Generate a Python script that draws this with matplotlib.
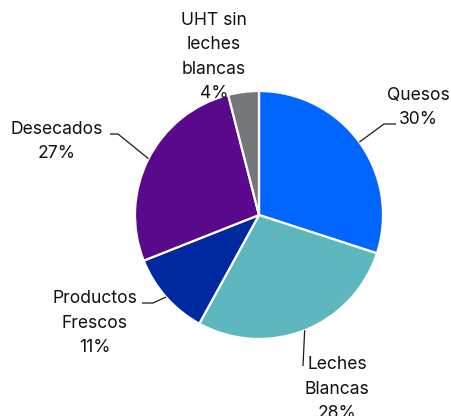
import numpy as np
import matplotlib
matplotlib.use("Agg")
import matplotlib.pyplot as plt

categories = ["Quesos", "Leches\nBlancas", "Productos\nFrescos", "Desecados", "UHT sin\nleches\nblancas"]
values = [30, 28, 11, 27, 4]
colors = ["#0066FF", "#5EB7BE", "#00289F", "#5A088C", "#75787B"]

W, H = 452, 416
fig = plt.figure(figsize=(W / 100, H / 100), dpi=100)
ax = fig.add_axes([0, 0, 1, 1])
ax.set_xlim(0, W)
ax.set_ylim(0, H)
ax.axis("off")

cx, cy, r = 259, H - 215, 124
wedges, _ = ax.pie(values, colors=colors, startangle=90, counterclock=False,
                   center=(cx, cy), radius=r,
                   wedgeprops=dict(edgecolor="white", linewidth=1.6))
ax.set_xlim(0, W)
ax.set_ylim(0, H)
ax.set_aspect("equal")

# label layout (pixel coords, y from top): text center, leader elbow, leader end
layout = [
    dict(text=(418, 107.5), pts=[(384, 124), (396, 124)]),
    dict(text=(337, 389), pts=[(303, 366)]),
    dict(text=(95, 323), pts=[(153, 303), (142, 303)]),
    dict(text=(57, 141.5), pts=[(118, 134), (110, 134)]),
    dict(text=(214, 57), pts=[]),
]

font = ["Inter", "DejaVu Sans"]
for w, cat, val, lay in zip(wedges, categories, values, layout):
    ang = np.deg2rad((w.theta1 + w.theta2) / 2)
    ex, ey = cx + r * np.cos(ang), cy + r * np.sin(ang)
    if lay["pts"]:
        xs = [ex] + [p[0] for p in lay["pts"]]
        ys = [ey] + [H - p[1] for p in lay["pts"]]
        ax.plot(xs, ys, color="#1a1a1a", lw=0.9, solid_capstyle="butt")
    tx, ty = lay["text"]
    ax.text(tx, H - ty, f"{cat}\n{val}%", ha="center", va="center",
            multialignment="center", fontsize=12.6, family=font, color="#111111",
            linespacing=1.55)

fig.savefig("out.png", dpi=100)
